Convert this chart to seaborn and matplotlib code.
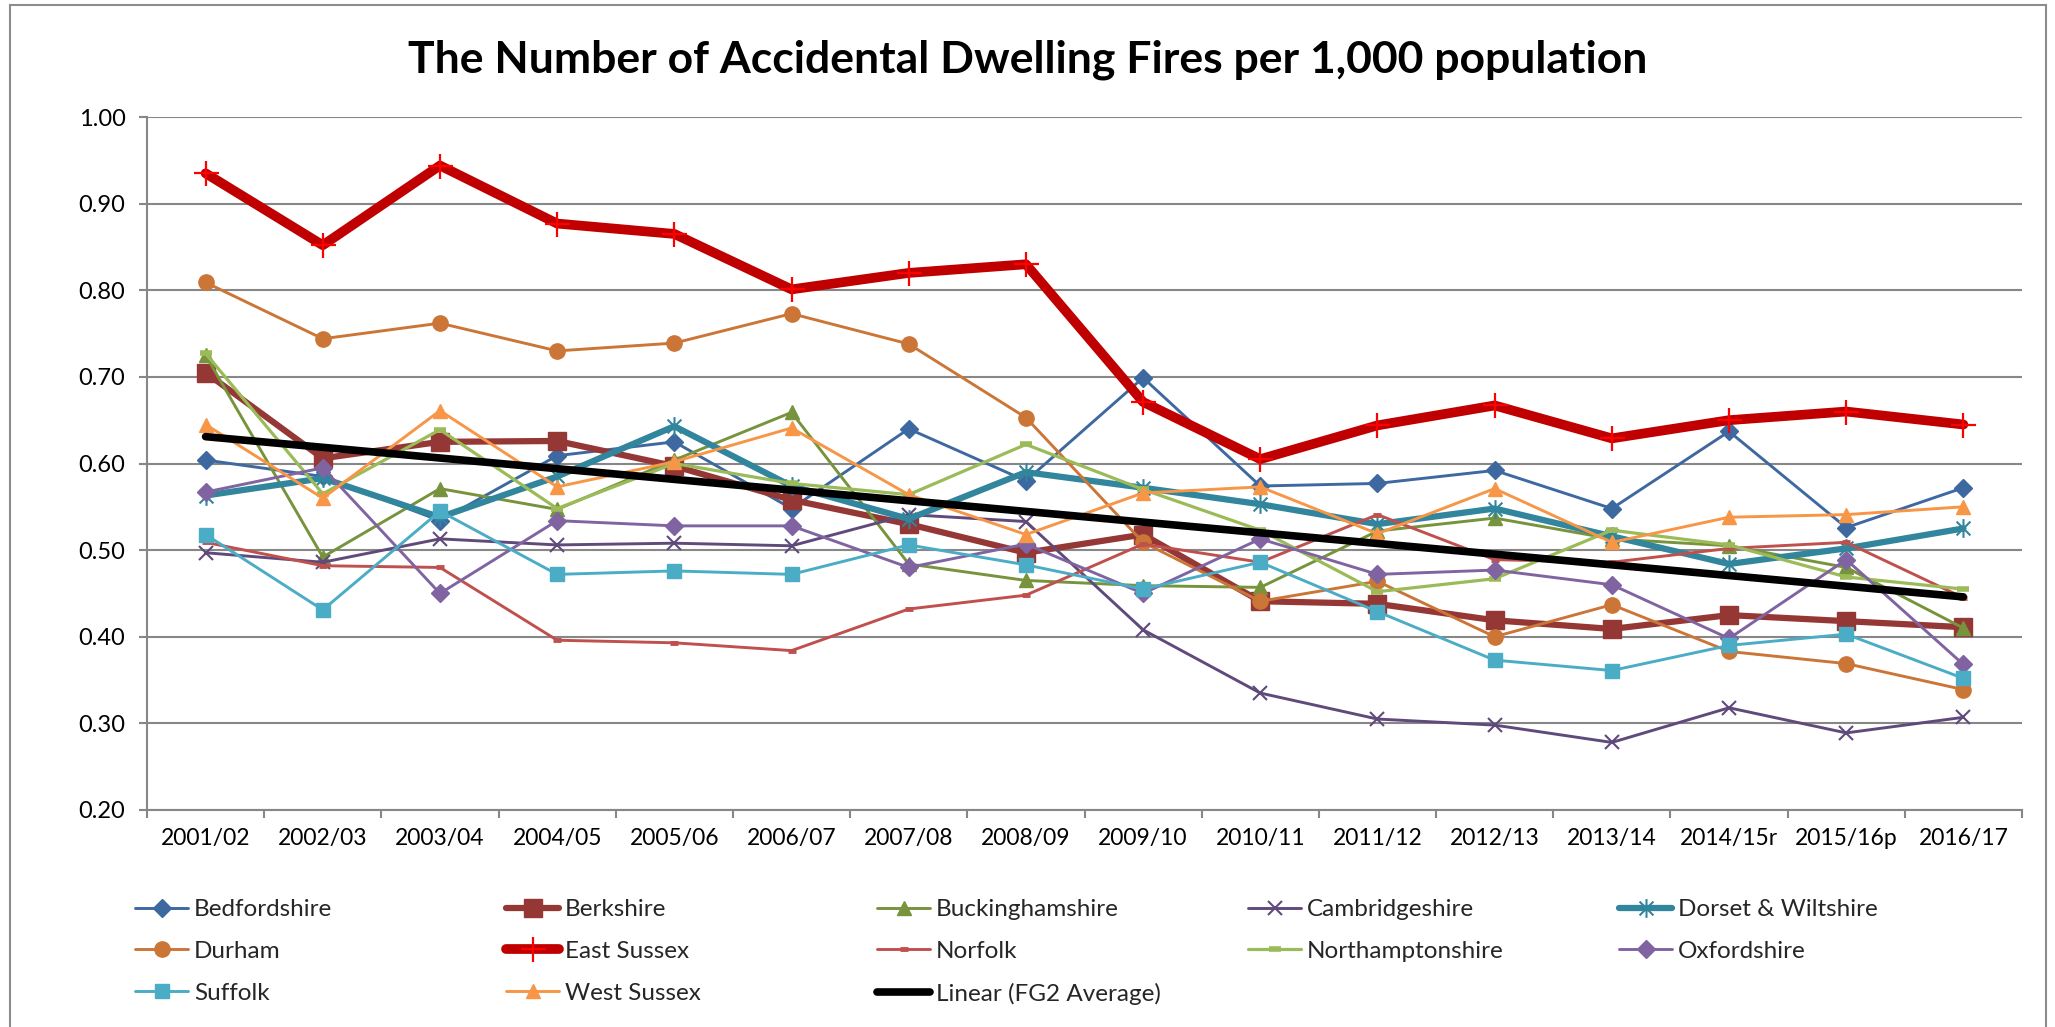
import numpy as np
import pandas as pd
import matplotlib
matplotlib.use("Agg")
import matplotlib.pyplot as plt
from matplotlib.lines import Line2D
from matplotlib.patches import Rectangle
from matplotlib.path import Path
import seaborn as sns

# ---------------- data ----------------
categories = ["2001/02", "2002/03", "2003/04", "2004/05", "2005/06", "2006/07",
              "2007/08", "2008/09", "2009/10", "2010/11", "2011/12", "2012/13",
              "2013/14", "2014/15r", "2015/16p", "2016/17"]

bedfordshire = [0.604, 0.585, 0.534, 0.609, 0.625, 0.548, 0.640, 0.580, 0.699, 0.574, 0.577, 0.592, 0.548, 0.637, 0.526, 0.572]
berkshire = [0.705, 0.606, 0.625, 0.626, 0.597, 0.558, 0.530, 0.497, 0.518, 0.441, 0.438, 0.419, 0.409, 0.425, 0.418, 0.411]
buckinghamshire = [0.725, 0.492, 0.571, 0.547, 0.604, 0.659, 0.484, 0.465, 0.459, 0.457, 0.522, 0.537, 0.513, 0.505, 0.480, 0.410]
cambridgeshire = [0.497, 0.486, 0.513, 0.506, 0.508, 0.505, 0.541, 0.533, 0.408, 0.335, 0.305, 0.298, 0.278, 0.318, 0.289, 0.307]
dorset_wiltshire = [0.563, 0.583, 0.538, 0.585, 0.643, 0.574, 0.536, 0.590, 0.572, 0.553, 0.530, 0.548, 0.516, 0.484, 0.502, 0.525]
durham = [0.809, 0.744, 0.762, 0.730, 0.739, 0.773, 0.738, 0.653, 0.509, 0.441, 0.464, 0.400, 0.437, 0.383, 0.369, 0.339]
east_sussex = [0.935, 0.852, 0.944, 0.877, 0.865, 0.801, 0.820, 0.830, 0.671, 0.605, 0.644, 0.667, 0.629, 0.650, 0.660, 0.645]
norfolk = [0.509, 0.482, 0.480, 0.396, 0.393, 0.384, 0.432, 0.448, 0.507, 0.486, 0.541, 0.489, 0.486, 0.502, 0.509, 0.445]
northamptonshire = [0.727, 0.565, 0.639, 0.548, 0.600, 0.577, 0.564, 0.622, 0.570, 0.523, 0.452, 0.467, 0.523, 0.506, 0.469, 0.455]
oxfordshire = [0.567, 0.595, 0.450, 0.534, 0.528, 0.528, 0.480, 0.507, 0.450, 0.513, 0.472, 0.477, 0.460, 0.398, 0.489, 0.368]
suffolk = [0.518, 0.431, 0.545, 0.472, 0.476, 0.472, 0.506, 0.483, 0.455, 0.486, 0.429, 0.373, 0.361, 0.390, 0.403, 0.352]
west_sussex = [0.645, 0.560, 0.661, 0.573, 0.602, 0.641, 0.564, 0.518, 0.566, 0.573, 0.519, 0.571, 0.509, 0.538, 0.541, 0.550]

# Linear trend of the FG2 average (value at first and last year)
trend_categories = ["2001/02", "2016/17"]
trend_values = [0.631, 0.446]

series_names = ["Bedfordshire", "Berkshire", "Buckinghamshire", "Cambridgeshire",
                "Dorset & Wiltshire", "Durham", "East Sussex", "Norfolk",
                "Northamptonshire", "Oxfordshire", "Suffolk", "West Sussex"]
series_values = [bedfordshire, berkshire, buckinghamshire, cambridgeshire,
                 dorset_wiltshire, durham, east_sussex, norfolk,
                 northamptonshire, oxfordshire, suffolk, west_sussex]
trend_label = "Linear (FG2 Average)"
title = "The Number of Accidental Dwelling Fires per 1,000 population"

# ---------------- styles ----------------
star = Path([(0, -1.15), (0, 1.15), (-0.85, -0.85), (0.85, 0.85), (-0.85, 0.85), (0.85, -0.85)],
            [Path.MOVETO, Path.LINETO, Path.MOVETO, Path.LINETO, Path.MOVETO, Path.LINETO])

styles = {
    "Bedfordshire": dict(color="#3D69A0", lw=2.1, marker="D", ms=9, mfc="#3D69A0", mec="#3D69A0", mew=1),
    "Berkshire": dict(color="#953735", lw=4.5, marker="s", ms=12.5, mfc="#953735", mec="#953735", mew=1),
    "Buckinghamshire": dict(color="#77933C", lw=2.1, marker="^", ms=10.5, mfc="#77933C", mec="#77933C", mew=1),
    "Cambridgeshire": dict(color="#604A7B", lw=2.1, marker="x", ms=9.5, mfc="#604A7B", mec="#604A7B", mew=1.5),
    "Dorset & Wiltshire": dict(color="#31859C", lw=4.5, marker=star, ms=13.5, mfc="#31859C", mec="#31859C", mew=1.5),
    "Durham": dict(color="#CB7637", lw=2.1, marker="o", ms=11, mfc="#CB7637", mec="#CB7637", mew=1),
    "East Sussex": dict(color="#C00000", lw=7.0, marker="+", ms=18, mfc="#FF0000", mec="#FF0000", mew=1.6),
    "Norfolk": dict(color="#C0504D", lw=2.1, marker="_", ms=6, mfc="#C0504D", mec="#C0504D", mew=3.5),
    "Northamptonshire": dict(color="#9BBB59", lw=2.3, marker="_", ms=9, mfc="#9BBB59", mec="#9BBB59", mew=4),
    "Oxfordshire": dict(color="#8064A2", lw=2.1, marker="D", ms=9, mfc="#8064A2", mec="#8064A2", mew=1),
    "Suffolk": dict(color="#4BACC6", lw=2.1, marker="s", ms=10.5, mfc="#4BACC6", mec="#4BACC6", mew=1),
    "West Sussex": dict(color="#F79646", lw=2.1, marker="^", ms=10.5, mfc="#F79646", mec="#F79646", mew=1),
}
trend_style = dict(color="black", lw=5.5)

GRID = "#878787"

# ---------------- figure ----------------
sns.set_theme(style="white")
plt.rcParams["font.family"] = ["Lato", "DejaVu Sans"]

W, H = 2055, 1027
fig = plt.figure(figsize=(W / 100, H / 100), dpi=100)
fig.patch.set_facecolor("white")

ax_l, ax_r, ax_t, ax_b = 147, 2022, 117, 810
ax = fig.add_axes([ax_l / W, 1 - ax_b / H, (ax_r - ax_l) / W, (ax_b - ax_t) / H])
ax.set_facecolor("white")

xpos = np.arange(len(categories))
for name, vals in zip(series_names, series_values):
    st = styles[name]
    df = pd.DataFrame({"x": xpos, "y": vals})
    sns.lineplot(data=df, x="x", y="y", ax=ax, color=st["color"], linewidth=st["lw"],
                 marker=st["marker"], markersize=st["ms"], markerfacecolor=st["mfc"],
                 markeredgecolor=st["mec"], markeredgewidth=st["mew"], legend=False,
                 solid_joinstyle="round", solid_capstyle="round", clip_on=False)

tx = [categories.index(c) for c in trend_categories]
sns.lineplot(x=tx, y=trend_values, ax=ax, color=trend_style["color"],
             linewidth=trend_style["lw"], legend=False, solid_capstyle="round", zorder=10)

ax.set_xlim(-0.5, len(categories) - 0.5)
ax.set_ylim(0.2, 1.0)
ax.set_yticks(np.arange(0.2, 1.001, 0.1))
ax.set_yticklabels([f"{v:.2f}" for v in np.arange(0.2, 1.001, 0.1)])
ax.yaxis.grid(True, color=GRID, linewidth=1.5)
ax.xaxis.grid(False)
ax.set_axisbelow(True)

ax.set_xticks(np.arange(-0.5, len(categories), 1.0))
ax.set_xticklabels([])
ax.set_xticks(xpos, minor=True)
ax.set_xticklabels(categories, minor=True)
ax.tick_params(axis="x", which="major", direction="out", length=5.5, width=1.5, color=GRID, bottom=True)
ax.tick_params(axis="x", which="minor", length=0, pad=13, labelsize=16.5, labelcolor="black", bottom=True)
ax.tick_params(axis="y", direction="out", length=5.5, width=1.5, color=GRID, pad=10,
               labelsize=17, labelcolor="black", left=True)
ax.set_xlabel("")
ax.set_ylabel("")

for s in ["top", "right"]:
    ax.spines[s].set_visible(False)
for s in ["left", "bottom"]:
    ax.spines[s].set_color(GRID)
    ax.spines[s].set_linewidth(1.5)

# title
fig.text(0.5, 1 - 72 / H, title, ha="center", va="baseline", fontsize=32,
         fontweight="bold", color="black")

# outer chart border
fig.add_artist(Rectangle((10 / W, -0.01), (2046 - 10) / W, 1.01 - 5 / H,
                         transform=fig.transFigure, fill=False, edgecolor="#8C8C8C", linewidth=1.5))

# legend: 5 columns, filled row-wise
def handle_for(name):
    st = styles[name]
    return Line2D([], [], color=st["color"], lw=st["lw"], marker=st["marker"],
                  markersize=st["ms"], markerfacecolor=st["mfc"], markeredgecolor=st["mec"],
                  markeredgewidth=st["mew"], solid_capstyle="round")

entries = [(n, handle_for(n)) for n in series_names]
entries.append((trend_label, Line2D([], [], color="black", lw=trend_style["lw"], solid_capstyle="round")))

ncols = 5
col_x = [135, 506, 877, 1248, 1619]
leg_top = 899
for c in range(ncols):
    col_entries = entries[c::ncols]
    leg = fig.legend([h for _, h in col_entries], [n for n, _ in col_entries],
                     loc="upper left", bbox_to_anchor=(col_x[c] / W, 1 - leg_top / H),
                     frameon=False, fontsize=17.5, handlelength=2.2, handletextpad=0.22,
                     labelspacing=0.86, borderpad=0, borderaxespad=0, numpoints=1)

fig.savefig("out.png", dpi=100, facecolor="white")
